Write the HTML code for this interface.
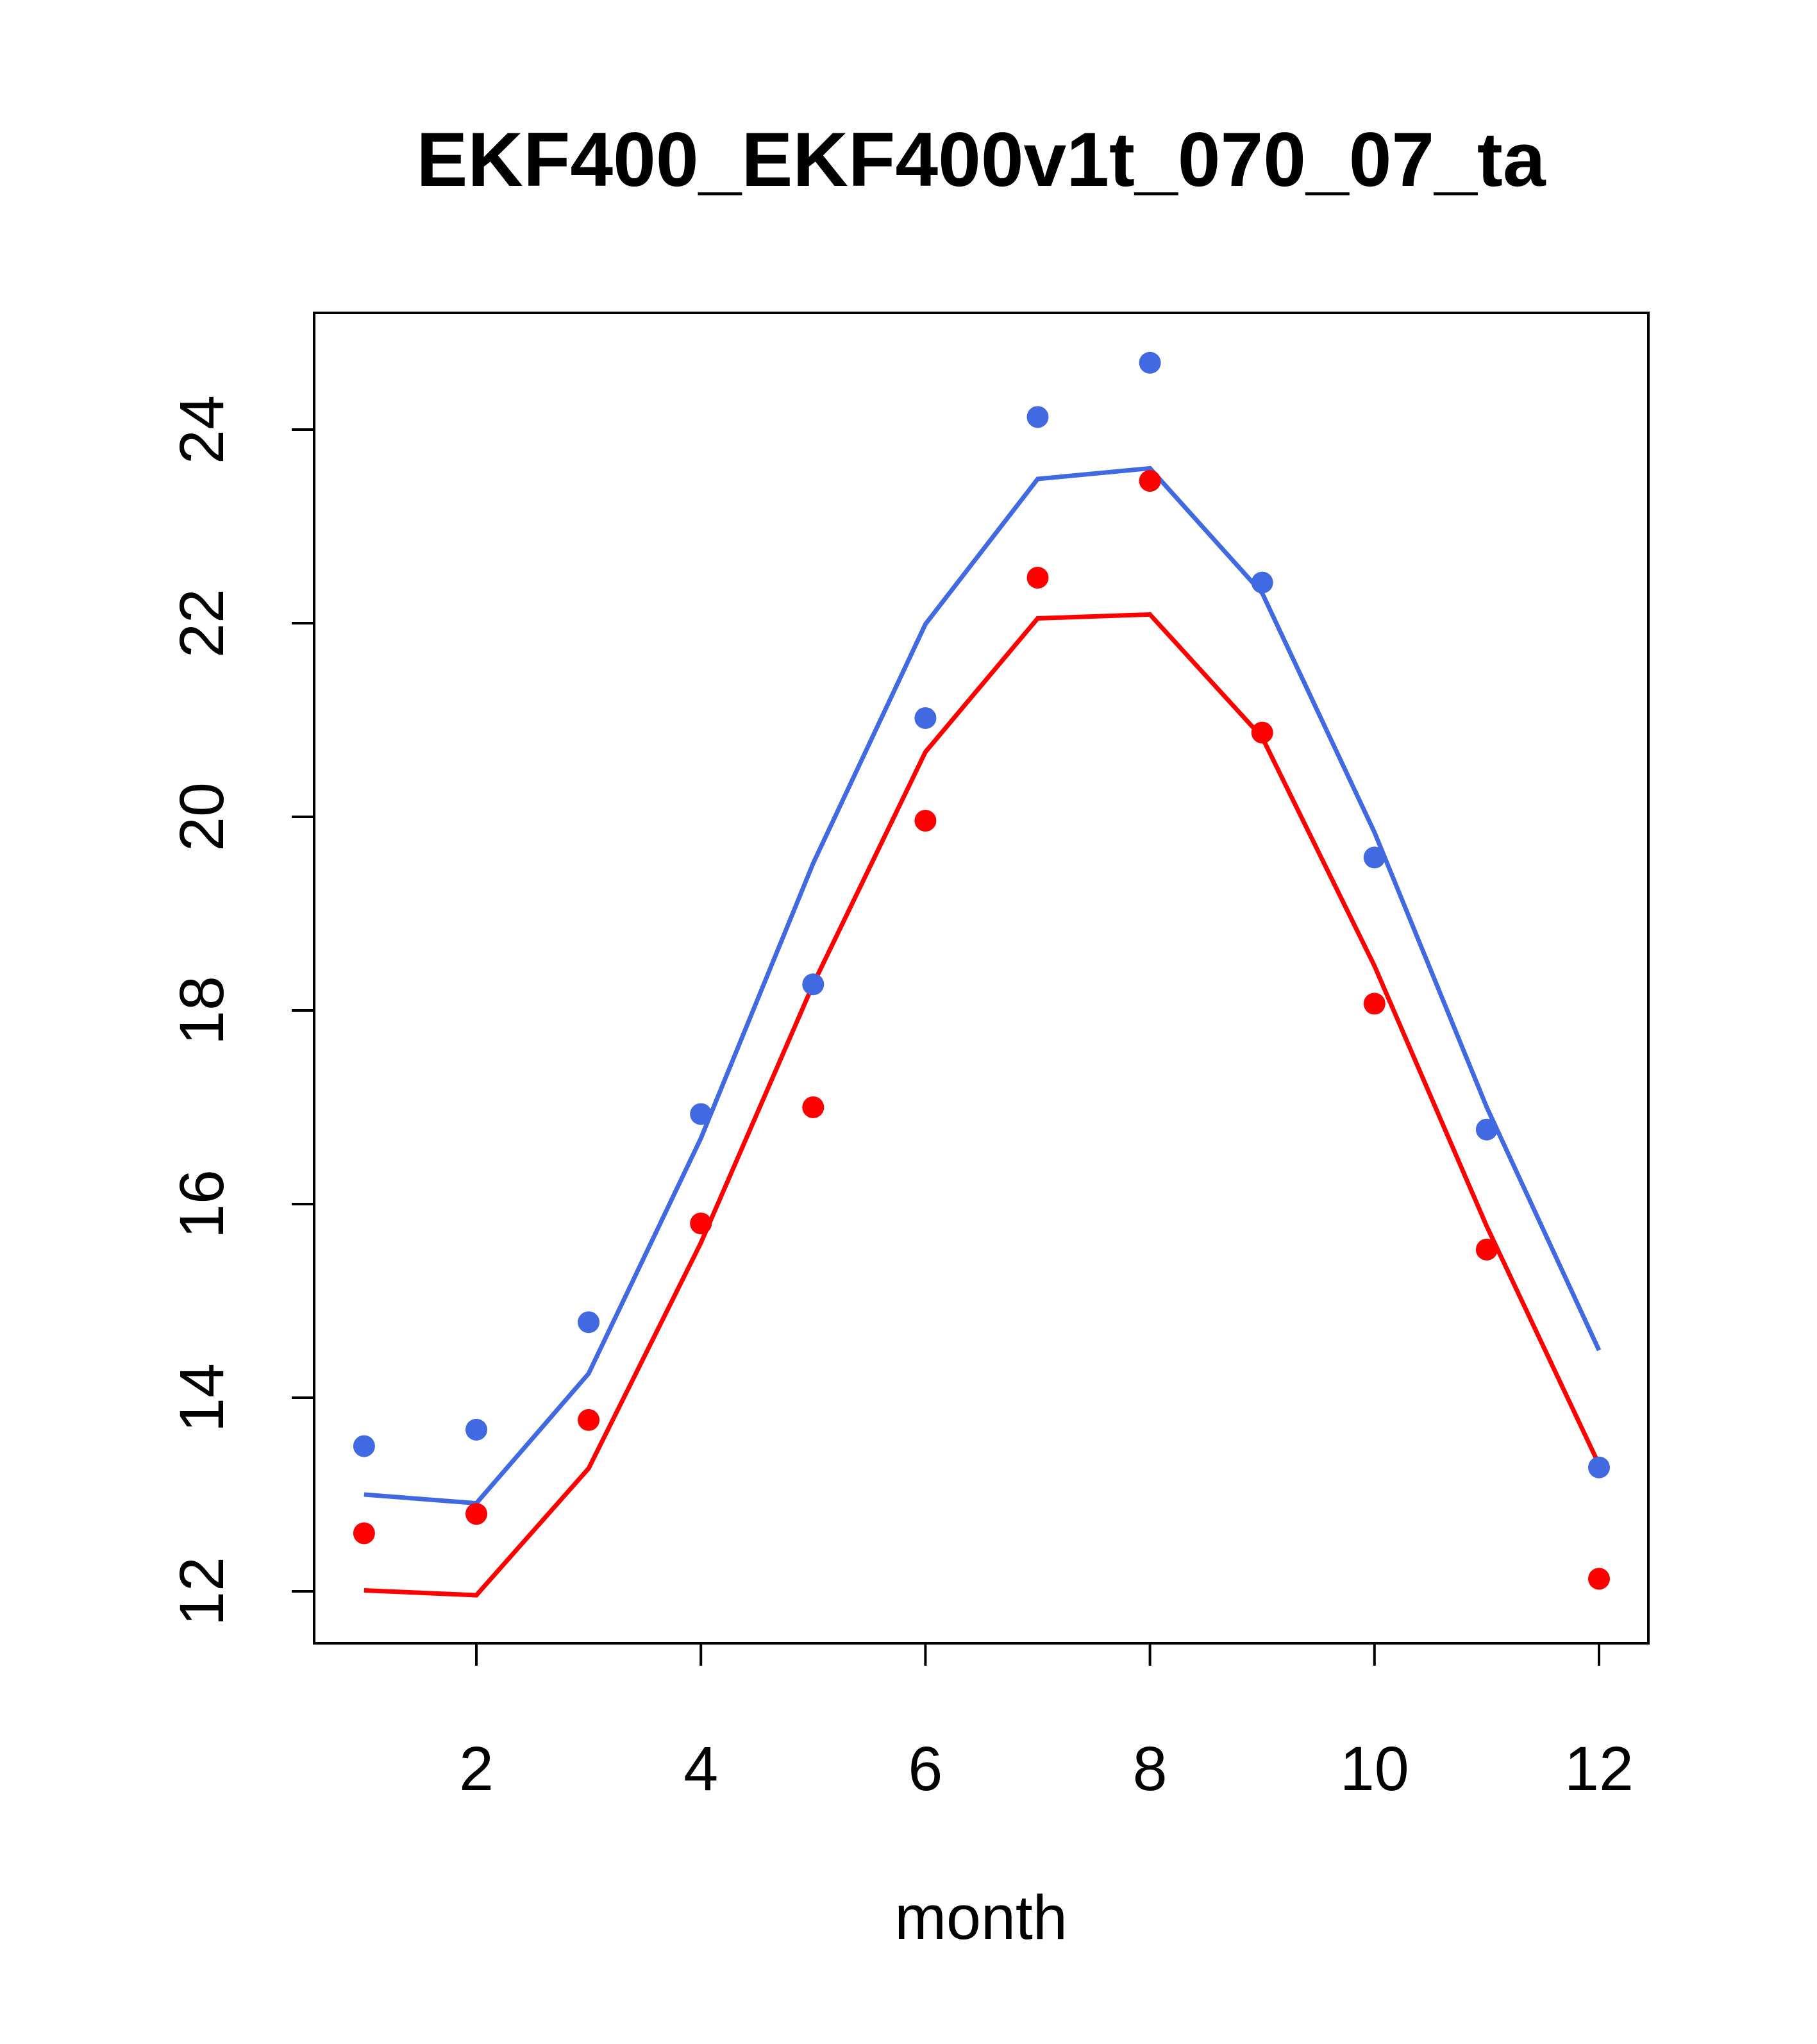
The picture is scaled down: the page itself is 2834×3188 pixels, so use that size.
<!DOCTYPE html>
<html><head><meta charset="utf-8"><style>html,body{margin:0;padding:0;background:#fff}svg{display:block}</style></head>
<body>
<svg id="chart" width="2834" height="3188" viewBox="0 0 2834 3188" xmlns="http://www.w3.org/2000/svg" font-family="'Liberation Sans', sans-serif">
<rect width="2834" height="3188" fill="#fff"/>
<text x="1530" y="290" font-size="120" font-weight="bold" text-anchor="middle">EKF400_EKF400v1t_070_07_ta</text>
<rect x="490" y="488" width="2081" height="2075" fill="none" stroke="#000" stroke-width="4"/>
<g id="xaxis"></g>
<g id="yaxis"></g>
<text x="1530" y="3024" font-size="97" text-anchor="middle">month</text>
<g id="series"></g>
</svg>
<script>
const months=[1,2,3,4,5,6,7,8,9,10,11,12];
const xTicks=[2,4,6,8,10,12];
const yTicks=[12,14,16,18,20,22,24];
const bluePoints=[13.5,13.67,14.78,16.93,18.27,21.02,24.13,24.69,22.42,19.58,16.77,13.28];
const blueLine=[13.0,12.91,14.25,16.68,19.52,21.99,23.49,23.6,22.31,19.84,17.0,14.49];
const redPoints=[12.6,12.8,13.77,15.8,17.0,19.96,22.47,23.47,20.87,18.07,15.53,12.13];
const redLine=[12.01,11.96,13.27,15.6,18.27,20.67,22.05,22.09,20.82,18.46,15.77,13.31];
const NS="http://www.w3.org/2000/svg";
function xs(v){return 743+(v-2)*(2494-743)/10;}
function ys(v){return 2482-(v-12)*(2482-670)/12;}
function mk(tag,attrs,parent){const e=document.createElementNS(NS,tag);for(const k in attrs)e.setAttribute(k,attrs[k]);parent.appendChild(e);return e;}
const xa=document.getElementById('xaxis'),ya=document.getElementById('yaxis'),sr=document.getElementById('series');
mk('line',{x1:xs(2),x2:xs(12),y1:2563,y2:2563,stroke:'#000','stroke-width':4},xa);
xTicks.forEach(t=>{
 const l=mk('line',{x1:xs(t),x2:xs(t),y1:2563,y2:2598,stroke:'#000','stroke-width':4},xa);
 
 
 const tx=mk('text',{x:xs(t),y:2792,'font-size':97,'text-anchor':'middle'},xa);tx.textContent=t;
 
 
});
mk('line',{x1:490,x2:490,y1:ys(12),y2:ys(24),stroke:'#000','stroke-width':4},ya);
yTicks.forEach(t=>{
 const l=mk('line',{x1:455,x2:490,y1:ys(t),y2:ys(t),stroke:'#000','stroke-width':4},ya);
 
 
 const tx=mk('text',{x:0,y:0,'font-size':97,'text-anchor':'middle',transform:`translate(348,${ys(t)}) rotate(-90)`},ya);tx.textContent=t;
 
 
});
function line(vals,color,name){
 const p=mk('polyline',{points:vals.map((v,i)=>xs(months[i])+','+ys(v)).join(' '),fill:'none',stroke:color,'stroke-width':7},sr);
 
 
}
function pts(vals,color,name){
 vals.forEach((v,i)=>{
  const c=mk('circle',{cx:xs(months[i]),cy:ys(v),r:17,fill:color},sr);
  
  
 });
}
line(blueLine,'#4169E1','blue-line');
line(redLine,'#FF0000','red-line');
pts(bluePoints,'#4169E1','blue-point');
pts(redPoints,'#FF0000','red-point');
</script>
</body></html>
